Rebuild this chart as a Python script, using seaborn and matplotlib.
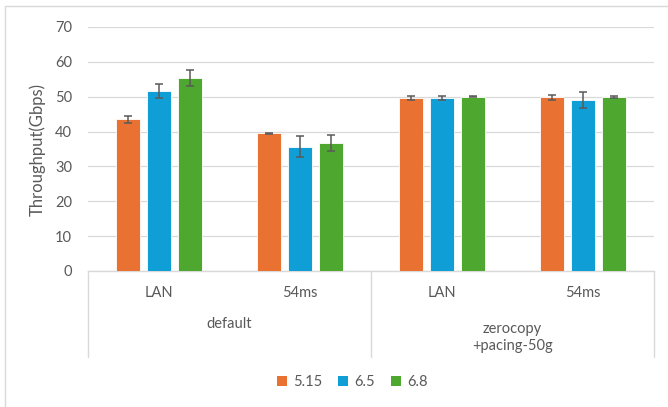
import matplotlib
matplotlib.use("Agg")
import matplotlib.pyplot as plt
from matplotlib.lines import Line2D
from matplotlib.patches import Patch
import pandas as pd
import seaborn as sns

# Throughput per kernel version, grouped by configuration and network path
groups = ["default", "default", "zerocopy\n+pacing-50g", "zerocopy\n+pacing-50g"]
paths = ["LAN", "54ms", "LAN", "54ms"]
kernels = ["5.15", "6.5", "6.8"]
tput_515 = [43.5, 39.5, 49.6, 49.8]
tput_65 = [51.7, 35.7, 49.6, 49.0]
tput_68 = [55.3, 36.7, 50.0, 49.9]
err_515 = [1.1, 0.1, 0.6, 0.7]
err_65 = [2.0, 3.1, 0.6, 2.3]
err_68 = [2.3, 2.2, 0.1, 0.4]
colors = ["#E97132", "#0F9ED5", "#4EA72E"]

values = [tput_515, tput_65, tput_68]
errors = [err_515, err_65, err_68]
cats = [f"{g}|{p}" for g, p in zip(groups, paths)]
rows = []
for k, vals in zip(kernels, values):
    for c, v in zip(cats, vals):
        rows.append({"cat": c, "kernel": k, "tput": v})
df = pd.DataFrame(rows)

sns.set_theme(style="white")
plt.rcParams["font.family"] = ["Lato", "DejaVu Sans"]
txt = "#595959"
grid = "#D9D9D9"
fs = 10.5

fig = plt.figure(figsize=(6.68, 4.07), dpi=100)
ax = fig.add_axes([88 / 668, 1 - 271 / 407, (654 - 88) / 668, (271 - 27) / 407])

sns.barplot(data=df, x="cat", y="tput", hue="kernel", order=cats,
            hue_order=kernels, palette=colors, errorbar=None,
            width=0.656, gap=0.226, edgecolor="white", linewidth=0.6,
            saturation=1, ax=ax, zorder=3)
ax.get_legend().remove()

for cont, errs in zip(ax.containers, errors):
    xs = [b.get_x() + b.get_width() / 2 for b in cont]
    ys = [b.get_height() for b in cont]
    ax.errorbar(xs, ys, yerr=errs, fmt="none", ecolor="#5A5A5A",
                elinewidth=1.1, capsize=3, capthick=1.1, zorder=4)

ax.set_ylim(0, 70)
ax.set_yticks(range(0, 71, 10))
ax.set_xlim(-0.5, 3.5)
ax.yaxis.grid(True, color=grid, linewidth=0.9, zorder=0)
ax.set_axisbelow(True)
for s in ["top", "right", "left"]:
    ax.spines[s].set_visible(False)
ax.spines["bottom"].set_color(grid)
ax.spines["bottom"].set_linewidth(1.0)
ax.tick_params(axis="y", length=0, labelsize=fs, labelcolor=txt, pad=11.5)
ax.tick_params(axis="x", length=0)
ax.set_xticks(range(4))
ax.set_xticklabels([""] * 4)
ax.set_xlabel("")
ax.set_ylabel("Throughput(Gbps)", fontsize=12, color=txt)
ax.yaxis.set_label_coords(-0.074, 0.5)

# Two-level category axis below the bars
xform = ax.get_xaxis_transform()
for i, p in enumerate(paths):
    ax.annotate(p, xy=(i, 0), xycoords=xform, xytext=(0, -15.5),
                textcoords="offset points", ha="center", va="center",
                fontsize=fs, color=txt)
seen = []
for i, g in enumerate(groups):
    if g in seen:
        continue
    seen.append(g)
    idx = [j for j, gg in enumerate(groups) if gg == g]
    xc = sum(idx) / len(idx)
    dy = -38.5 if "\n" not in g else -48.0
    ax.annotate(g, xy=(xc, 0), xycoords=xform, xytext=(0, dy),
                textcoords="offset points", ha="center", va="center",
                fontsize=fs, color=txt, linespacing=1.3)
for xb in [-0.5, 1.5, 3.5]:
    ax.add_line(Line2D([xb, xb], [0, -86 / 244], transform=xform,
                       color=grid, linewidth=1.0, clip_on=False))

handles = [Patch(facecolor=c, edgecolor="none") for c in colors]
fig.legend(handles, kernels, loc="center", bbox_to_anchor=(352 / 668, 1 - 382 / 407),
           ncol=3, frameon=False, fontsize=fs, labelcolor=txt,
           handlelength=0.7, handleheight=0.7, handletextpad=0.4,
           columnspacing=1.1)

# Chart frame edges
fig.add_artist(Line2D([4.5 / 668, 4.5 / 668], [0, 1 - 5.5 / 407],
                      transform=fig.transFigure, color=grid, linewidth=1.0))
fig.add_artist(Line2D([4.5 / 668, 1], [1 - 5.5 / 407, 1 - 5.5 / 407],
                      transform=fig.transFigure, color=grid, linewidth=1.0))

fig.savefig("out.png", dpi=100)
